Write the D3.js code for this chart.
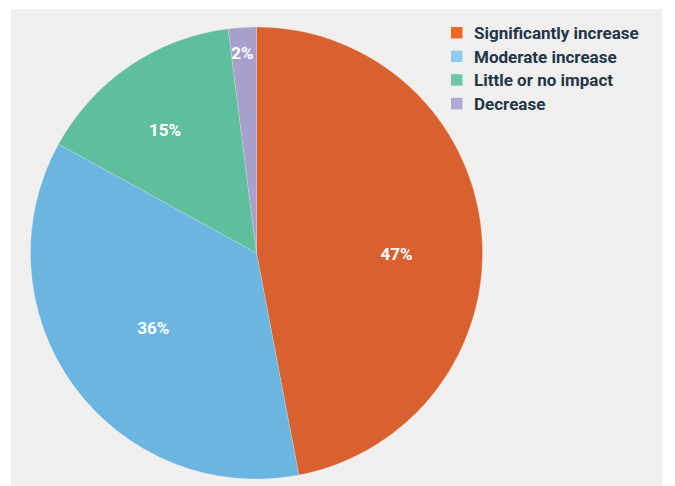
<!DOCTYPE html>
<html>
<head>
<meta charset="utf-8">
<script src="https://cdn.jsdelivr.net/npm/d3@7"></script>
<style>
  html, body { margin: 0; padding: 0; background: #ffffff; }
  svg { display: block; }
  text { font-family: Roboto, "DejaVu Sans", sans-serif; }
</style>
</head>
<body>
<svg id="chart" width="675" height="486"></svg>
<script>
// Expected impact shares
const categories = ["Significantly increase", "Moderate increase", "Little or no impact", "Decrease"];
const values = [47, 36, 15, 2];
const valueLabels = ["47%", "36%", "15%", "2%"];
const sliceColors = ["#d9602f", "#6bb5e1", "#5fbf9d", "#a99fcc"];
const legendColors = ["#f26727", "#8ecbef", "#6cc6a7", "#b3a9d6"];

const W = 675, H = 486;
const svg = d3.select("#chart");

// panel background
svg.append("rect")
  .attr("x", 11).attr("y", 9)
  .attr("width", 651).attr("height", 477)
  .attr("fill", "#f2f0ef");

const cx = 256.5, cy = 253, R = 226;

const pie = d3.pie().sort(null).value(d => d);
const arcs = pie(values);
const arc = d3.arc().innerRadius(0).outerRadius(R);

const g = svg.append("g").attr("transform", `translate(${cx},${cy})`);

g.selectAll("path.slice")
  .data(arcs)
  .enter().append("path")
  .attr("class", "slice")
  .attr("d", arc)
  .attr("fill", (d, i) => sliceColors[i])
  .attr("stroke", "#ffffff")
  .attr("stroke-opacity", 0.35)
  .attr("stroke-width", 0.5);

// label placement: radius fraction and angular nudge per slice
const labelRadius = [0.62, 0.565, 0.68, 0.887];
const labelNudge = [0.10, 0.0, -0.04, -0.007];

g.selectAll("text.val")
  .data(arcs)
  .enter().append("text")
  .attr("class", "val")
  .attr("transform", (d, i) => {
    const a = (d.startAngle + d.endAngle) / 2 + labelNudge[i];
    const r = R * labelRadius[i];
    return `translate(${r * Math.sin(a)},${-r * Math.cos(a)})`;
  })
  .attr("text-anchor", "middle")
  .attr("dy", "0.36em")
  .attr("fill", "#ffffff")
  .attr("font-size", 17)
  .attr("font-weight", 700)
  .text((d, i) => valueLabels[i]);

// legend
const legend = svg.append("g").attr("transform", "translate(451,27)");
const row = legend.selectAll("g.item")
  .data(categories)
  .enter().append("g")
  .attr("class", "item")
  .attr("transform", (d, i) => `translate(0,${i * 23.6})`);

row.append("rect")
  .attr("width", 11.5).attr("height", 11.5)
  .attr("fill", (d, i) => legendColors[i]);

row.append("text")
  .attr("x", 23).attr("y", 6)
  .attr("dy", "0.36em")
  .attr("fill", "#22364a")
  .attr("font-size", 17)
  .attr("font-weight", 700)
  .text(d => d);
</script>
</body>
</html>
